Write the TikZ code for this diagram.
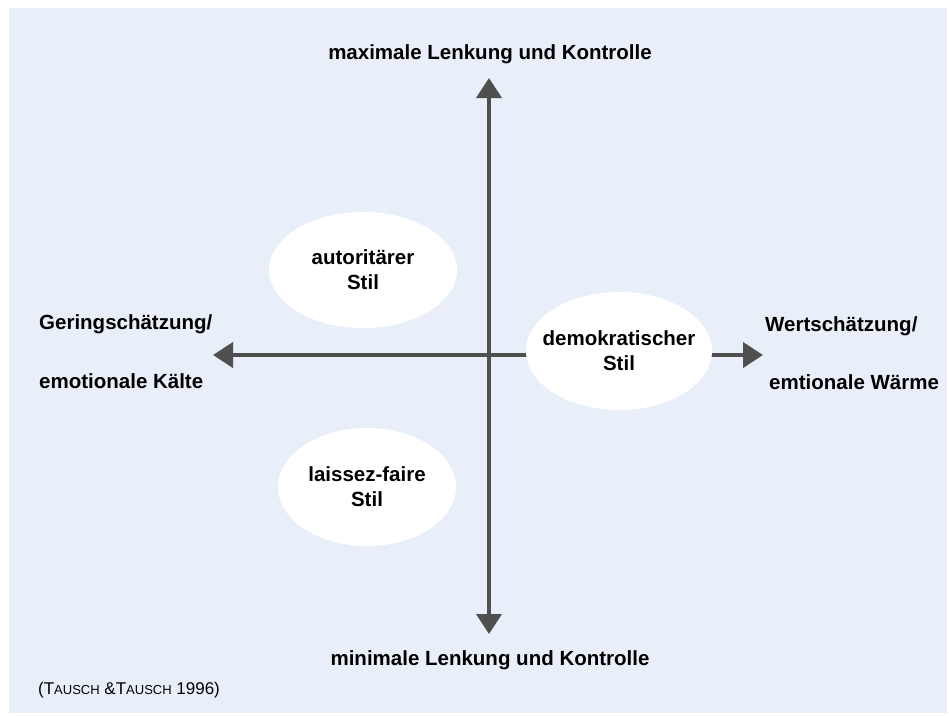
\documentclass[tikz,border=0pt]{standalone}
\usepackage{fontspec}
\setmainfont{Liberation Sans}
\usetikzlibrary{arrows.meta,shapes.geometric}

\definecolor{panelbg}{HTML}{E9EFF8}
\definecolor{axisgray}{HTML}{4F4F4F}

\tikzset{
  axisline/.style={draw=axisgray, line width=4pt,
    {Triangle[length=20pt,width=25pt]}-{Triangle[length=20pt,width=25pt]}},
  stylebubble/.style={ellipse, fill=white, draw=none, inner sep=0pt},
  bubbletext/.style={align=center, inner sep=0pt,
    font=\bfseries\fontsize{20.5}{25}\selectfont},
  axislabel/.style={font=\bfseries\fontsize{20.5}{24}\selectfont, inner sep=0pt},
}

\begin{document}
\begin{tikzpicture}[x=1pt, y=-1pt]
  % page and panel
  \useasboundingbox (0,0) rectangle (949,715);
  \fill[white] (0,0) rectangle (949,715);
  \fill[panelbg] (9,8) rectangle (947,713);

  % axis end points
  \coordinate (top) at (489,78);
  \coordinate (bottom) at (489,634);
  \coordinate (left) at (213,355);
  \coordinate (right) at (763,355);

  % the two axes
  \draw[axisline] (bottom) -- (top);
  \draw[axisline] (left) -- (right);

  % the three leadership styles
  \node[stylebubble, minimum width=188pt, minimum height=116pt] (autoritaer) at (363,270) {};
  \node[bubbletext] (autoritaertext) at (autoritaer) {autoritärer\\Stil};
  \node[stylebubble, minimum width=186pt, minimum height=118pt] (demokratisch) at (619,351) {};
  \node[bubbletext] (demokratischtext) at (demokratisch) {demokratischer\\Stil};
  \node[stylebubble, minimum width=178pt, minimum height=118pt] (laissez) at (367,487) {};
  \node[bubbletext] (laisseztext) at (laissez) {laissez-faire\\Stil};

  % axis labels
  \node[axislabel] (maxlabel) at (490,54) {maximale Lenkung und Kontrolle};
  \node[axislabel] (minlabel) at (490,660) {minimale Lenkung und Kontrolle};
  \node[axislabel, anchor=west] (gering) at (39,324) {Geringschätzung/};
  \node[axislabel, anchor=west] (kaelte) at (39,381) {emotionale Kälte};
  \node[axislabel, anchor=west] (wert) at (765,326) {Wertschätzung/};
  \node[axislabel, anchor=west] (waerme) at (769,382) {emtionale Wärme};

  % source
  \node[anchor=west, inner sep=0pt, font=\fontsize{17}{19}\selectfont] (quelle) at (38,690)
    {(T{\fontsize{13}{15}\selectfont AUSCH} \&T{\fontsize{13}{15}\selectfont AUSCH} 1996)};
\end{tikzpicture}
\end{document}
